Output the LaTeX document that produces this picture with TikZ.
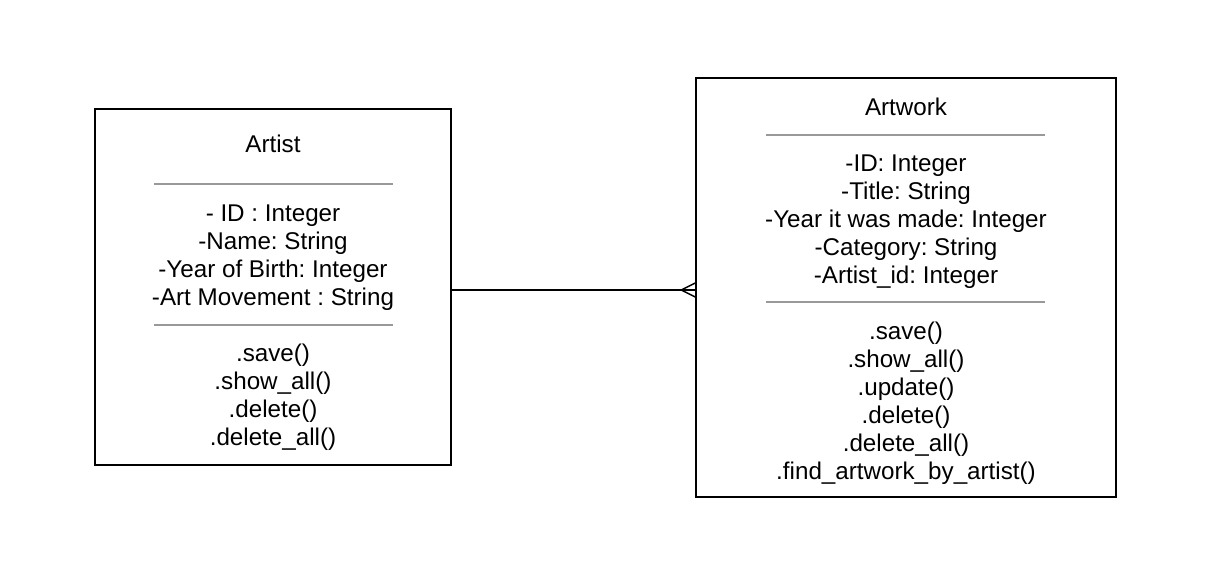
\documentclass[tikz,border=0pt]{standalone}
\usepackage{fontspec}
\setmainfont{Liberation Sans}
\frenchspacing
\begin{document}
\begin{tikzpicture}[x=1pt,y=-1pt,
  umlbox/.style={draw=black, line width=1.5pt, fill=white, inner sep=0pt},
  sep/.style={draw=black!40, line width=2pt},
  txt/.style={anchor=base, inner sep=0pt, font=\fontsize{24.2}{28}\selectfont\frenchspacing},
  conn/.style={draw=black, line width=1.5pt}]
\useasboundingbox (0,0) rectangle (1216,576);
\fill[white] (0,0) rectangle (1216,576);
% Artist box
\node[umlbox, minimum width=356pt, minimum height=356pt] (artist) at (273,287) {};
\node[txt] (artistT) at (273,152) {Artist};
\draw[sep] (154,184) -- (393,184);
\node[txt] (a1) at (273,221) {- ID : Integer};
\node[txt] (a2) at (273,249) {-Name: String};
\node[txt] (a3) at (273,277) {-Year of Birth: Integer};
\node[txt] (a4) at (273,305) {-Art Movement : String};
\draw[sep] (154,325) -- (393,325);
\node[txt] (m1) at (273,361) {.save()};
\node[txt] (m2) at (273,389) {.show\_all()};
\node[txt] (m3) at (273,417) {.delete()};
\node[txt] (m4) at (273,445) {.delete\_all()};
% Artwork box
\node[umlbox, minimum width=420pt, minimum height=419pt] (artwork) at (906,287.5) {};
\node[txt] (artworkT) at (906,115) {Artwork};
\draw[sep] (766,135) -- (1045,135);
\node[txt] (b1) at (906,171) {-ID: Integer};
\node[txt] (b2) at (906,199) {-Title: String};
\node[txt] (b3) at (906,227) {-Year it was made: Integer};
\node[txt] (b4) at (906,255) {-Category: String};
\node[txt] (b5) at (906,283) {-Artist\_id: Integer};
\draw[sep] (766,302) -- (1045,302);
\node[txt] (n1) at (906,339) {.save()};
\node[txt] (n2) at (906,367) {.show\_all()};
\node[txt] (n3) at (906,395) {.update()};
\node[txt] (n4) at (906,423) {.delete()};
\node[txt] (n5) at (906,451) {.delete\_all()};
\node[txt] (n6) at (906,479) {.find\_artwork\_by\_artist()};
% connector with crow's foot
\coordinate (ca) at ([yshift=-3pt]artist.east);
\coordinate (cb) at (artwork.west |- ca);
\coordinate (foot) at ([xshift=-14pt]cb);
\draw[conn] (ca) -- (cb);
\draw[conn] ([yshift=7pt]cb) -- (foot) -- ([yshift=-7pt]cb);
\end{tikzpicture}
\end{document}
